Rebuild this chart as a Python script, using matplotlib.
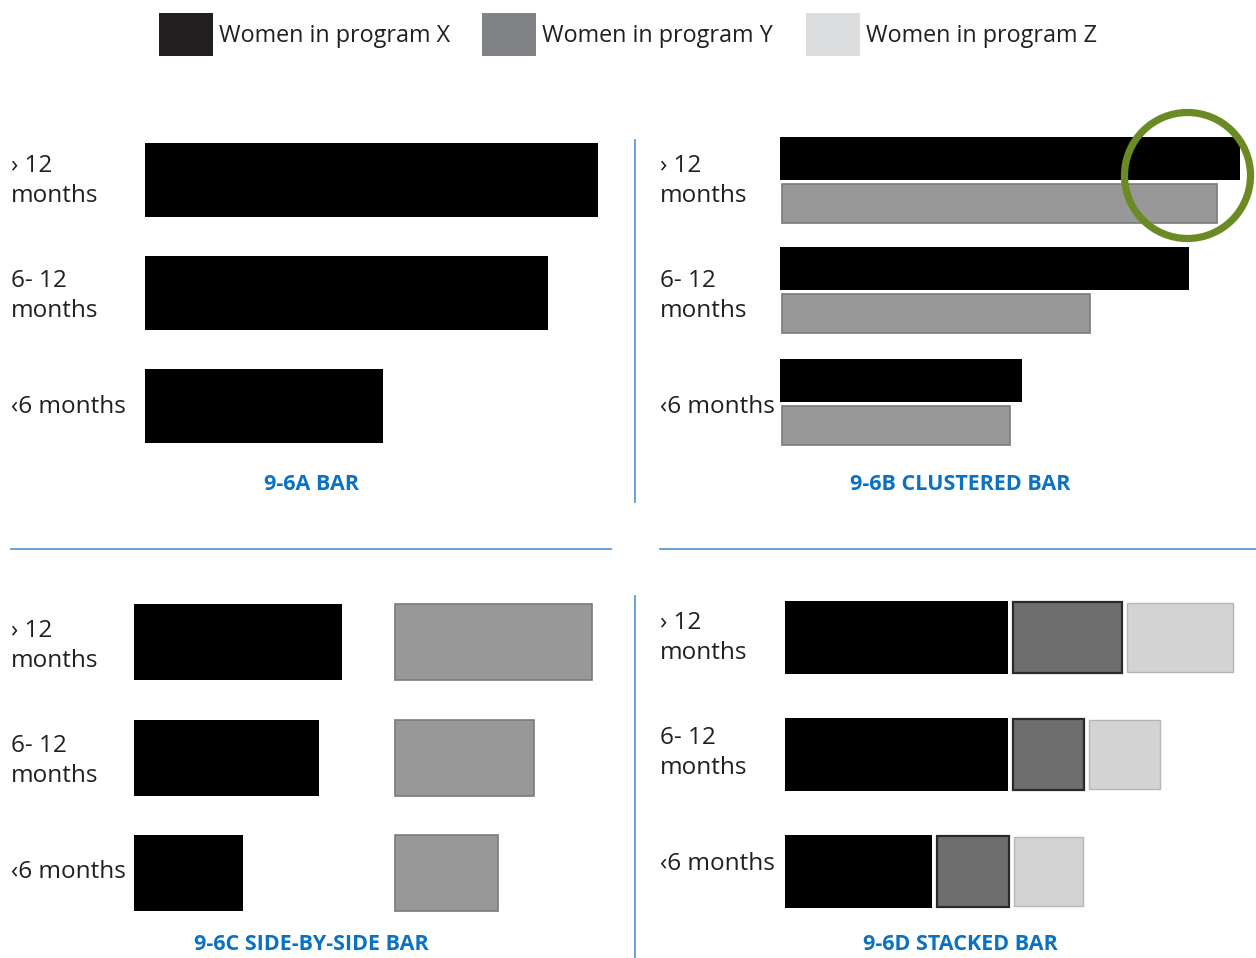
import matplotlib
matplotlib.use("Agg")
import matplotlib.pyplot as plt
from matplotlib.patches import Circle

# ---------------- data ----------------
categories = ["\u203a 12\nmonths", "6- 12\nmonths", "\u20396 months"]
series_names = ["Women in program X", "Women in program Y", "Women in program Z"]
program_x = [100, 89, 52.5]
program_y = [94.5, 67, 49.5]
stacked_x = [100, 100, 66]
stacked_y = [49, 32, 32]
stacked_z = [47.5, 31.5, 31]
panel_titles = ["9-6A BAR", "9-6B CLUSTERED BAR", "9-6C SIDE-BY-SIDE BAR", "9-6D STACKED BAR"]

# ---------------- style ----------------
W, H = 1256, 958
C_X = "#000000"
C_LEG = ["#231f20", "#808285", "#dcddde"]
C_GRAY = "#989898"
C_GRAY_EDGE = "#7a7a7a"
C_STK_Y = "#6e6e6e"
C_STK_Z = "#d3d3d3"
BLUE = "#0a72c4"
LINE_BLUE = "#5b9bd5"
TXT = "#231f20"
FONT = ["Open Sans", "DejaVu Sans"]

fig = plt.figure(figsize=(W / 100, H / 100), dpi=100)
ax = fig.add_axes([0, 0, 1, 1])
ax.set_xlim(0, W)
ax.set_ylim(H, 0)
ax.axis("off")

# legend
leg_x = [159, 482, 806]
for lx, name, col in zip(leg_x, series_names, C_LEG):
    ax.barh(34.5, 54, left=lx, height=43, color=col, linewidth=0)
    ax.text(lx + 60, 36, name, fontsize=16.8, color=TXT, va="center", ha="left",
            family=FONT)

# dividers
ax.plot([635, 635], [140, 502], color=LINE_BLUE, lw=1.3)
ax.plot([635, 635], [596, 958], color=LINE_BLUE, lw=1.3)
ax.plot([11, 611], [549, 549], color=LINE_BLUE, lw=1.3)
ax.plot([660, 1256], [549, 549], color=LINE_BLUE, lw=1.3)


def cat_labels(x0, centers):
    for c, lab in zip(centers, categories):
        ax.text(x0, c + 1, lab, fontsize=17.5, color=TXT, va="center", ha="left",
                family=FONT, linespacing=1.32)


# ---- Panel A: bar ----
rowsA = [180, 293, 406]
sA = 4.53
ax.barh(rowsA, [v * sA for v in program_x], left=145, height=74, color=C_X, linewidth=0)
cat_labels(11, [180, 295, 406])

# ---- Panel B: clustered ----
sB = 4.6
ax.barh([r - 22 for r in [180, 290, 402]], [v * sB for v in program_x], left=780, height=43,
        color=C_X, linewidth=0)
ax.barh([r + 23 for r in [180, 290, 402]], [v * sB for v in program_y], left=782, height=39,
        color=C_GRAY, edgecolor=C_GRAY_EDGE, linewidth=1.2)
cat_labels(660, [180, 295, 406])
ax.add_patch(Circle((1187.5, 175.5), 63, fill=False, edgecolor="#6b8a23", lw=5.2))

# ---- Panel C: side-by-side ----
rowsC = [642, 758, 873]
sC = 2.08
ax.barh(rowsC, [v * sC for v in program_x], left=134, height=76, color=C_X, linewidth=0)
ax.barh(rowsC, [v * sC for v in program_y], left=395, height=76, color=C_GRAY,
        edgecolor=C_GRAY_EDGE, linewidth=1.2)
cat_labels(11, [645, 760, 871])

# ---- Panel D: stacked ----
rowsD = [637.5, 754.5, 871]
sD = 2.23
gap = 5
lx = [785 for _ in rowsD]
wx = [v * sD for v in stacked_x]
wy = [v * sD for v in stacked_y]
wz = [v * sD for v in stacked_z]
ax.barh(rowsD, wx, left=lx, height=73, color=C_X, linewidth=0)
ly = [a + b + gap for a, b in zip(lx, wx)]
ax.barh(rowsD, wy, left=ly, height=71, color=C_STK_Y, edgecolor="#2a2a2a", linewidth=1.6)
lz = [a + b + gap for a, b in zip(ly, wy)]
ax.barh(rowsD, wz, left=lz, height=69, color=C_STK_Z, edgecolor="#b5b5b5", linewidth=1.0)
cat_labels(660, [637, 752, 863])

# titles
title_pos = [(311, 484), (960, 484), (311, 945), (960, 945)]
for (tx, ty), t in zip(title_pos, panel_titles):
    ax.text(tx, ty, t, fontsize=15.5, color=BLUE, fontweight="bold", ha="center",
            va="center", family=FONT)

fig.savefig("out.png", dpi=100)
